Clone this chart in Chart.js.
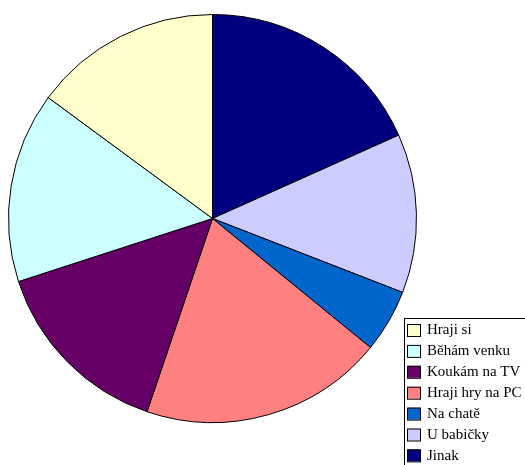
<!DOCTYPE html>
<html>
<head>
<meta charset="utf-8">
<script src="https://cdn.jsdelivr.net/npm/chart.js@4"></script>
<style>
  html, body { margin: 0; padding: 0; background: #fff; }
  #wrap { width: 525px; height: 465px; position: relative; }
</style>
</head>
<body>
<div id="wrap"><canvas id="c"></canvas></div>
<script>
// Legend order (as shown in the legend box)
const labels = ['Hraji si', 'Běhám venku', 'Koukám na TV', 'Hraji hry na PC', 'Na chatě', 'U babičky', 'Jinak'];
const values = [14.9, 15.1, 14.8, 19.3, 5.0, 12.6, 18.3];
const colors = ['#FFFFCC', '#CCFFFF', '#660066', '#FF8080', '#0066CC', '#CCCCFF', '#000080'];

// Slices run clockwise from 12 o'clock in reverse legend order
const pieLabels = labels.slice().reverse();
const pieValues = values.slice().reverse();
const pieColors = colors.slice().reverse();

// Boxed legend in the bottom right corner
const boxLegend = {
    id: 'boxLegend',
    afterDraw(chart) {
        const ctx = chart.ctx;
        ctx.save();
        ctx.strokeStyle = '#000';
        ctx.lineWidth = 1;
        ctx.strokeRect(404.5, 318.5, 140, 160);
        ctx.font = '15px "Liberation Serif", "Times New Roman", serif';
        ctx.textBaseline = 'middle';
        labels.forEach((lab, i) => {
            const y = 324 + i * 20.9;
            ctx.fillStyle = colors[i];
            ctx.fillRect(407.5, y, 13, 12);
            ctx.strokeStyle = '#000';
            ctx.strokeRect(407.5, y + 0.5, 13, 12);
            ctx.fillStyle = '#000';
            ctx.fillText(lab, 427, y + 6.5);
        });
        ctx.restore();
    }
};

new Chart(document.getElementById('c'), {
    type: 'pie',
    data: {
        labels: pieLabels,
        datasets: [{
            data: pieValues,
            backgroundColor: pieColors,
            borderColor: '#000',
            borderWidth: 1
        }]
    },
    options: {
        responsive: true,
        maintainAspectRatio: false,
        animation: false,
        layout: { padding: { left: 8, top: 14, right: 108, bottom: 42 } },
        plugins: {
            legend: { display: false },
            tooltip: { enabled: false }
        }
    },
    plugins: [boxLegend]
});
</script>
</body>
</html>
